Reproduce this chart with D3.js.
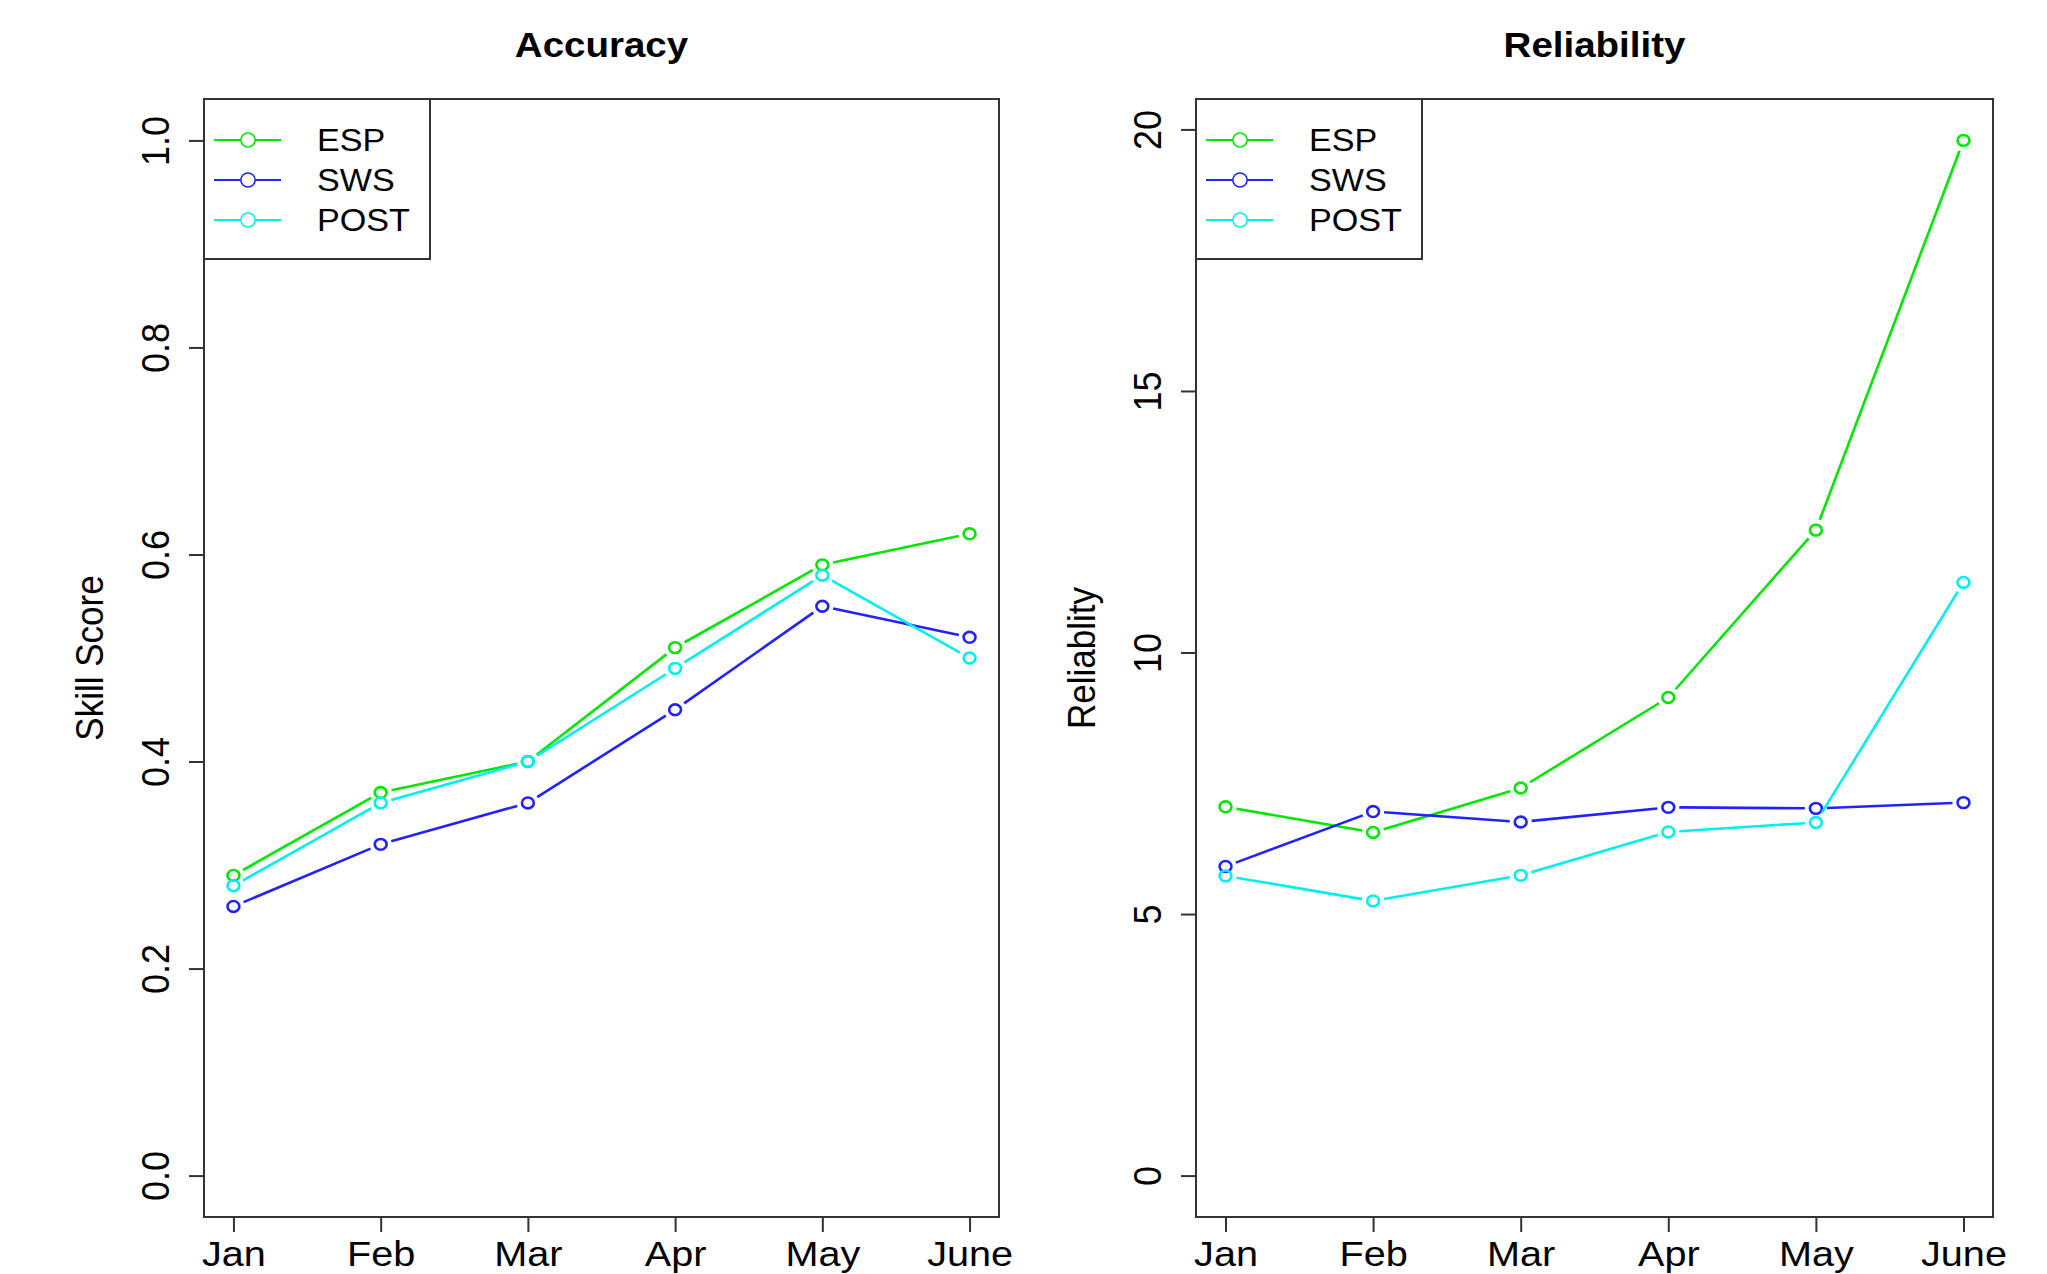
<!DOCTYPE html>
<html>
<head>
<meta charset="utf-8">
<script src="https://cdn.jsdelivr.net/npm/d3@7"></script>
<style>
  body { margin: 0; background: #fff; }
  text { font-family: "Liberation Sans", Arial, Helvetica, sans-serif; fill: #000; }
</style>
</head>
<body>
<div id="chart"></div>
<script>
// data
const months = ["Jan", "Feb", "Mar", "Apr", "May", "June"];
const seriesNames = ["ESP", "SWS", "POST"];
const seriesColors = ["#00e600", "#2222ff", "#00eeee"];

const accuracyEsp = [0.29, 0.37, 0.40, 0.51, 0.59, 0.62];
const accuracySws = [0.26, 0.32, 0.36, 0.45, 0.55, 0.52];
const accuracyPost = [0.28, 0.36, 0.40, 0.49, 0.58, 0.50];

const reliabilityEsp = [7.05, 6.56, 7.41, 9.14, 12.34, 19.79];
const reliabilitySws = [5.91, 6.96, 6.76, 7.04, 7.02, 7.13];
const reliabilityPost = [5.73, 5.25, 5.74, 6.57, 6.75, 11.34];

const accuracyTicks = [0, 0.2, 0.4, 0.6, 0.8, 1.0];
const reliabilityTicks = [0, 5, 10, 15, 20];

const width = 2047, height = 1274;
const plotTop = 99, plotBottom = 1217;
const stretch = 1.1; // the source image is a little wider than tall

const svg = d3.select('#chart').append('svg')
  .attr('width', width)
  .attr('height', height);

const panels = [
  {
    title: 'Accuracy', yLabel: 'Skill Score', left: 204, right: 999,
    ylim: [0, 1], ticks: accuracyTicks, fmt: d3.format('.1f'),
    series: [accuracyEsp, accuracySws, accuracyPost]
  },
  {
    title: 'Reliability', yLabel: 'Reliablity', left: 1196, right: 1993,
    ylim: [0, d3.max(reliabilityEsp)], ticks: reliabilityTicks, fmt: d3.format('d'),
    series: [reliabilityEsp, reliabilitySws, reliabilityPost]
  }
];

panels.forEach(drawPanel);

function drawPanel(p) {
  const g = svg.append('g');

  // R style 4% padding on both axes
  const n = months.length - 1;
  const x = d3.scaleLinear()
    .domain([-0.04 * n, n + 0.04 * n])
    .range([p.left, p.right]);
  const span = p.ylim[1] - p.ylim[0];
  const y = d3.scaleLinear()
    .domain([p.ylim[0] - 0.04 * span, p.ylim[1] + 0.04 * span])
    .range([plotBottom, plotTop]);

  // title
  g.append('text')
    .attr('transform', `translate(${(p.left + p.right) / 2}, 57) scale(${stretch},1)`)
    .attr('text-anchor', 'middle')
    .attr('font-weight', 'bold')
    .attr('font-size', 35)
    .text(p.title);

  // y label
  g.append('text')
    .attr('transform', `translate(${p.left - 101}, ${(plotTop + plotBottom) / 2}) scale(${stretch},1) rotate(-90)`)
    .attr('text-anchor', 'middle')
    .attr('font-size', 35)
    .text(p.yLabel);

  // y axis
  const yAxis = g.append('g')
    .attr('transform', `translate(${p.left},0)`)
    .call(d3.axisLeft(y).tickValues(p.ticks).tickFormat(p.fmt).tickSize(15).tickSizeOuter(0));
  yAxis.select('.domain').remove();
  yAxis.selectAll('.tick line').attr('stroke', '#333').attr('stroke-width', 2);
  yAxis.selectAll('.tick text')
    .attr('x', null).attr('dy', null)
    .attr('transform', `translate(-35,0) scale(${stretch},1) rotate(-90)`)
    .attr('text-anchor', 'middle')
    .attr('font-size', 36)
    .attr('font-family', '"Liberation Sans", Arial, sans-serif')
    .attr('fill', '#000');

  // x axis
  const xAxis = g.append('g')
    .attr('transform', `translate(0,${plotBottom})`)
    .call(d3.axisBottom(x).tickValues(d3.range(months.length)).tickFormat(i => months[i]).tickSize(15).tickSizeOuter(0));
  xAxis.select('.domain').remove();
  xAxis.selectAll('.tick line').attr('stroke', '#333').attr('stroke-width', 2);
  xAxis.selectAll('.tick text')
    .attr('y', null).attr('dy', null)
    .attr('transform', `translate(0,49) scale(${stretch},1)`)
    .attr('text-anchor', 'middle')
    .attr('font-size', 36)
    .attr('font-family', '"Liberation Sans", Arial, sans-serif')
    .attr('fill', '#000');

  // lines with gaps + open points (type = "b")
  const gap = 11;
  p.series.forEach((vals, si) => {
    const pts = vals.map((v, i) => [x(i), y(v)]);
    const sg = g.append('g').attr('class', 'series-' + seriesNames[si]);

    d3.pairs(pts).forEach(([a, b]) => {
      const dx = b[0] - a[0], dy = b[1] - a[1];
      const len = Math.hypot(dx, dy);
      if (len <= 2 * gap) return;
      const ux = dx / len, uy = dy / len;
      sg.append('line')
        .attr('x1', a[0] + ux * gap).attr('y1', a[1] + uy * gap)
        .attr('x2', b[0] - ux * gap).attr('y2', b[1] - uy * gap)
        .attr('stroke', seriesColors[si])
        .attr('stroke-width', 2.6);
    });

    sg.selectAll('ellipse')
      .data(pts)
      .join('ellipse')
      .attr('cx', d => d[0])
      .attr('cy', d => d[1])
      .attr('rx', 5.4 * stretch)
      .attr('ry', 5.4)
      .attr('fill', 'none')
      .attr('stroke', seriesColors[si])
      .attr('stroke-width', 2.6);
  });

  // box
  g.append('rect')
    .attr('x', p.left).attr('y', plotTop)
    .attr('width', p.right - p.left).attr('height', plotBottom - plotTop)
    .attr('fill', 'none')
    .attr('stroke', '#333')
    .attr('stroke-width', 2);

  // legend
  const lg = g.append('g').attr('transform', `translate(${p.left},${plotTop})`);
  lg.append('rect')
    .attr('width', 226).attr('height', 160)
    .attr('fill', '#fff')
    .attr('stroke', '#333')
    .attr('stroke-width', 2);

  seriesNames.forEach((name, i) => {
    const ly = 41 + i * 40;
    lg.append('line')
      .attr('x1', 10).attr('x2', 77)
      .attr('y1', ly).attr('y2', ly)
      .attr('stroke', seriesColors[i])
      .attr('stroke-width', 2);
    lg.append('ellipse')
      .attr('cx', 44).attr('cy', ly)
      .attr('rx', 6.5 * stretch).attr('ry', 7)
      .attr('fill', '#fff')
      .attr('stroke', seriesColors[i])
      .attr('stroke-width', 1.6);
    lg.append('text')
      .attr('transform', `translate(113,${ly + 11}) scale(${stretch},1)`)
      .attr('font-size', 31)
      .text(name);
  });
}
</script>
</body>
</html>
